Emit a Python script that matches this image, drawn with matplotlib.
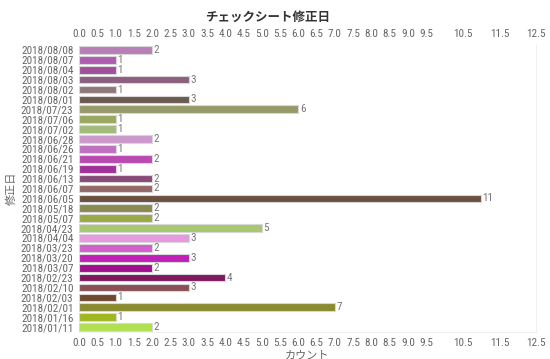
import matplotlib
matplotlib.use('Agg')
import matplotlib.pyplot as plt
from matplotlib import font_manager
import numpy as np

# data (top to bottom)
dates = ['2018/08/08', '2018/08/07', '2018/08/04', '2018/08/03', '2018/08/02',
         '2018/08/01', '2018/07/23', '2018/07/06', '2018/07/02', '2018/06/28',
         '2018/06/26', '2018/06/21', '2018/06/19', '2018/06/13', '2018/06/07',
         '2018/06/05', '2018/05/18', '2018/05/07', '2018/04/23', '2018/04/04',
         '2018/03/23', '2018/03/20', '2018/03/07', '2018/02/23', '2018/02/10',
         '2018/02/03', '2018/02/01', '2018/01/16', '2018/01/11']
counts = [2, 1, 1, 3, 1, 3, 6, 1, 1, 2, 1, 2, 1, 2, 2, 11, 2, 2, 5, 3,
          2, 3, 2, 4, 3, 1, 7, 1, 2]
colors = ['#b77fb8', '#b05cb0', '#a0509a', '#8c5f80', '#8f7878', '#6b5a50',
          '#969a6a', '#9aa860', '#a2bb78', '#cc99cc', '#c070c0', '#b84ab0',
          '#a0309a', '#884a78', '#946868', '#6b5040', '#8a8a50', '#9aa848',
          '#a8c870', '#e699e0', '#d060cc', '#c020b8', '#a0108e', '#801860',
          '#8a5055', '#704830', '#8a8a30', '#a0b820', '#b0e050']
xticks = [0.0, 0.5, 1.0, 1.5, 2.0, 2.5, 3.0, 3.5, 4.0, 4.5, 5.0, 5.5, 6.0,
          6.5, 7.0, 7.5, 8.0, 8.5, 9.0, 9.5, 10.5, 11.5, 12.5]

# the chart uses a condensed face; take one if present, else plain sans a bit smaller
installed = {f.name for f in font_manager.fontManager.ttflist}
narrow, fs = ['Liberation Sans', 'DejaVu Sans'], 6.8
for name in ['Liberation Sans Narrow', 'DejaVu Sans Condensed', 'Roboto Condensed']:
    if name in installed:
        narrow, fs = [name, 'DejaVu Sans'], 8
        break
cjk = ['Noto Sans CJK JP', 'DejaVu Sans']
grey = '#666666'

fig = plt.figure(figsize=(5.5, 3.59), dpi=100)
ax = fig.add_axes([79/550, 1 - 332/359, (536-79)/550, (332-45)/359])

y = np.arange(len(dates))
ax.barh(y, counts, height=0.78, color=colors, edgecolor='#d8d8d8', linewidth=0.8)
for yi, c in zip(y, counts):
    ax.text(c + 0.04, yi, str(c), va='center', ha='left', fontsize=fs,
            color='#777777', family=narrow)

ax.set_ylim(len(dates) - 0.5, -0.5)
ax.set_xlim(0, 12.5)
ax.set_yticks(y)
ax.set_yticklabels(dates, family=narrow, fontsize=fs, color=grey)
ax.set_xticks(xticks)
ax.set_xticklabels(['%.1f' % t for t in xticks], family=narrow, fontsize=fs, color=grey)
ax.tick_params(axis='x', which='both', top=True, labeltop=True, length=0, pad=4)
ax.tick_params(axis='y', length=0, pad=4)
for s in ['left', 'top']:
    ax.spines[s].set_visible(False)
for s in ['right', 'bottom']:
    ax.spines[s].set_color('#f0f0f0')

ax.set_xlabel('カウント', family=cjk, fontsize=8, color=grey, labelpad=2)
ax.yaxis.set_label_coords(-62/457, 0.5)
ax.set_ylabel('修正日', family=cjk, fontsize=8, color=grey)
fig.text(268/550, 1 - 17/359, 'チェックシート修正日', family=cjk, fontsize=9,
         fontweight='bold', color='#333333', ha='center', va='center')

fig.savefig('out.png', dpi=100)
